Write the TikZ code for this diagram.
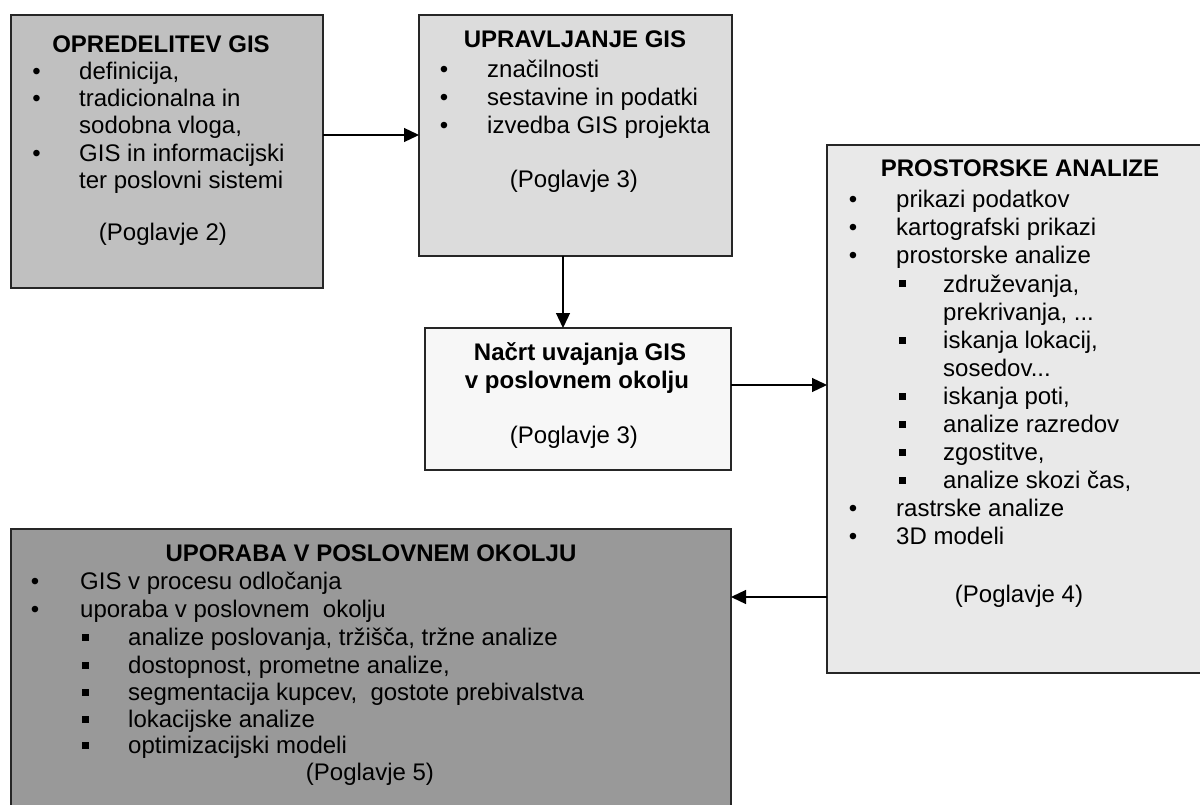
\documentclass[tikz,border=0pt]{standalone}
\usepackage{fontspec}
\setmainfont{Liberation Sans}
\usetikzlibrary{arrows.meta}
\definecolor{fillA}{HTML}{C0C0C0}
\definecolor{fillB}{HTML}{DCDCDC}
\definecolor{fillC}{HTML}{F7F7F7}
\definecolor{fillD}{HTML}{E9E9E9}
\definecolor{fillE}{HTML}{999999}
\begin{document}
\begin{tikzpicture}[x=1pt,y=-1pt,
  panel/.style={draw=black!85, line width=1.6pt, inner sep=0pt, outer sep=0pt, anchor=north west},
  txt/.style={font=\fontsize{24}{27}\selectfont, inner sep=0pt, anchor=base west},
  ctr/.style={font=\fontsize{24}{27}\selectfont, inner sep=0pt, anchor=base},
  head/.style={font=\fontsize{24}{27}\selectfont\bfseries, inner sep=0pt, anchor=base},
  dot/.style={font=\fontsize{24}{27}\selectfont, inner sep=0pt, anchor=base},
  sqb/.style={fill=black, minimum size=7pt, inner sep=0pt},
  link/.style={line width=1.3pt, -{Triangle[length=15pt,width=14pt]}}
]
\useasboundingbox (0,0) rectangle (1200,805);
\clip (0,0) rectangle (1200,805);
\fill[white] (0,0) rectangle (1200,805);

% panels
\node[panel, fill=fillA, minimum width=312pt, minimum height=273pt] (b1) at (11,15) {};
\node[panel, fill=fillB, minimum width=313pt, minimum height=241pt] (b2) at (419,15) {};
\node[panel, fill=fillC, minimum width=306pt, minimum height=142pt] (b3) at (425,328) {};
\node[panel, fill=fillD, minimum width=386pt, minimum height=528pt] (b4) at (827,145) {};
\node[panel, fill=fillE, minimum width=720pt, minimum height=290pt] (b5) at (11,529) {};

% OPREDELITEV GIS
\node[head] (h1) at (161,53) {OPREDELITEV GIS};
\node[dot] (d11) at (36.7,80) {•};
\node[txt] (t11) at (79,80) {definicija,};
\node[dot] (d12) at (36.7,107) {•};
\node[txt] (t12) at (79,107) {tradicionalna in};
\node[txt] (t13) at (79,134) {sodobna vloga,};
\node[dot] (d13) at (36.7,162) {•};
\node[txt] (t14) at (79,162) {GIS in informacijski};
\node[txt] (t15) at (79,189) {ter poslovni sistemi};
\node[ctr] (p1) at (163,241) {(Poglavje 2)};

% UPRAVLJANJE GIS
\node[head] (h2) at (575,48) {UPRAVLJANJE GIS};
\node[dot] (d21) at (444,78) {•};
\node[txt] (t21) at (487,78) {značilnosti};
\node[dot] (d22) at (444,106) {•};
\node[txt] (t22) at (487,106) {sestavine in podatki};
\node[dot] (d23) at (444,134) {•};
\node[txt] (t23) at (487,134) {izvedba GIS projekta};
\node[ctr] (p2) at (574,188) {(Poglavje 3)};

% Nacrt uvajanja
\node[head] (h3a) at (580,360) {Načrt uvajanja GIS};
\node[head] (h3b) at (577,388) {v poslovnem okolju};
\node[ctr] (p3) at (574,443) {(Poglavje 3)};

% PROSTORSKE ANALIZE
\node[head] (h4) at (1020,177) {PROSTORSKE ANALIZE};
\node[dot] (d41) at (853,208) {•};
\node[txt] (t41) at (896,208) {prikazi podatkov};
\node[dot] (d42) at (853,236) {•};
\node[txt] (t42) at (896,236) {kartografski prikazi};
\node[dot] (d43) at (853,264) {•};
\node[txt] (t43) at (896,264) {prostorske analize};
\node[sqb] (s41) at (902,284) {};
\node[txt] (u41) at (943,292) {združevanja,};
\node[txt] (u42) at (943,320) {prekrivanja, ...};
\node[sqb] (s42) at (902,340) {};
\node[txt] (u43) at (943,348) {iskanja lokacij,};
\node[txt] (u44) at (943,376) {sosedov...};
\node[sqb] (s43) at (902,396) {};
\node[txt] (u45) at (943,404) {iskanja poti,};
\node[sqb] (s44) at (902,424) {};
\node[txt] (u46) at (943,432) {analize razredov};
\node[sqb] (s45) at (902,452) {};
\node[txt] (u47) at (943,460) {zgostitve,};
\node[sqb] (s46) at (902,480) {};
\node[txt] (u48) at (943,488) {analize skozi čas,};
\node[dot] (d44) at (853,516) {•};
\node[txt] (t44) at (896,516) {rastrske analize};
\node[dot] (d45) at (853,544) {•};
\node[txt] (t45) at (896,544) {3D modeli};
\node[ctr] (p4) at (1019,602) {(Poglavje 4)};

% UPORABA V POSLOVNEM OKOLJU
\node[head] (h5) at (371,561) {UPORABA V POSLOVNEM OKOLJU};
\node[dot] (d51) at (35,589) {•};
\node[txt] (t51) at (80,589) {GIS v procesu odločanja};
\node[dot] (d52) at (35,617) {•};
\node[txt] (t52) at (80,617) {uporaba v poslovnem \ okolju};
\node[sqb] (s51) at (85,637) {};
\node[txt] (u51) at (128,645) {analize poslovanja, tržišča, tržne analize};
\node[sqb] (s52) at (85,665) {};
\node[txt] (u52) at (128,673) {dostopnost, prometne analize,};
\node[sqb] (s53) at (85,692) {};
\node[txt] (u53) at (128,700) {segmentacija kupcev, \ gostote prebivalstva};
\node[sqb] (s54) at (85,719) {};
\node[txt] (u54) at (128,727) {lokacijske analize};
\node[sqb] (s55) at (85,745) {};
\node[txt] (u55) at (128,753) {optimizacijski modeli};
\node[ctr] (p5) at (370,780) {(Poglavje 5)};

% connectors
\draw[link] (b1.east |- 0,135) -- (b2.west |- 0,135);
\draw[link] (b2.south -| 563,0) -- (b3.north -| 563,0);
\draw[link] (b3.east |- 0,385) -- (b4.west |- 0,385);
\draw[link] (b4.west |- 0,597) -- (b5.east |- 0,597);
\end{tikzpicture}
\end{document}
